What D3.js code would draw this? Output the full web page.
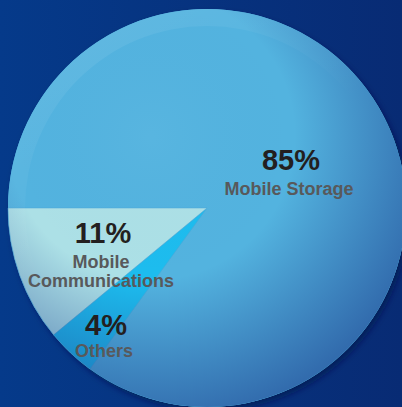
<!DOCTYPE html>
<html><head><meta charset="utf-8">
<script src="https://cdn.jsdelivr.net/npm/d3@7"></script>
<style>html,body{margin:0;padding:0;background:#053783;}svg{display:block;}</style>
</head><body>
<svg id="chart" width="402" height="407"></svg>
<script>
const categories = ["Mobile Storage", "Others", "Mobile Communications"];
const values = [85, 4, 11];
const labelLines = [["Mobile Storage"], ["Others"], ["Mobile", "Communications"]];
const colors = ["#53b3df", "#1dbcee", "#ace0e6"];

const W = 402, H = 407, cx = 207, cy = 208, R = 199;
const svg = d3.select("#chart");
const defs = svg.append("defs");

const bg = defs.append("linearGradient").attr("id","bg").attr("x1","0").attr("x2","1").attr("y1","0").attr("y2","0");
bg.append("stop").attr("offset","0").attr("stop-color","#053a8a");
bg.append("stop").attr("offset","1").attr("stop-color","#082b74");
svg.append("rect").attr("width",W).attr("height",H).attr("fill","url(#bg)");

const shade = defs.append("radialGradient").attr("id","shade").attr("cx","0.36").attr("cy","0.32").attr("r","0.72");
shade.append("stop").attr("offset","0").attr("stop-color","#ffffff").attr("stop-opacity",0.03);
shade.append("stop").attr("offset","0.5").attr("stop-color","#1c3c8c").attr("stop-opacity",0);
shade.append("stop").attr("offset","1").attr("stop-color","#1c3c8c").attr("stop-opacity",0.6);

const hl = defs.append("linearGradient").attr("id","hl").attr("x1","0").attr("x2","0.6").attr("y1","0").attr("y2","1");
hl.append("stop").attr("offset","0").attr("stop-color","#ffffff").attr("stop-opacity",0.1);
hl.append("stop").attr("offset","0.55").attr("stop-color","#ffffff").attr("stop-opacity",0);

const f = defs.append("filter").attr("id","ds").attr("x","-10%").attr("y","-10%").attr("width","130%").attr("height","130%");
f.append("feDropShadow").attr("dx",3).attr("dy",4).attr("stdDeviation",3).attr("flood-color","#04184a").attr("flood-opacity",0.6);

const g = svg.append("g").attr("transform",`translate(${cx},${cy})`);
g.append("circle").attr("r",R).attr("fill","#53b3df").attr("filter","url(#ds)");

const pie = d3.pie().sort(null).value(d=>d).startAngle(-Math.PI/2).endAngle(1.5*Math.PI);
const arcs = pie(values);
const arc = d3.arc().innerRadius(0).outerRadius(R);
g.selectAll("path.slice").data(arcs).join("path").attr("class","slice")
  .attr("d",arc).attr("fill",(d,i)=>colors[i])
  .attr("stroke",(d,i)=> i===0 ? "none" : "#4aa6d6").attr("stroke-width",0.5);

g.append("circle").attr("r",R).attr("fill","url(#shade)");
g.append("path").attr("d", d3.arc().innerRadius(R-17).outerRadius(R).startAngle(0).endAngle(2*Math.PI)())
  .attr("fill","url(#hl)");

// labels
const labelPos = [[291, 170, 195, 0], [106, 335, 357, 0], [103, 243, 268, 19]];
const pctFont = "bold 29px 'Liberation Sans', Arial, sans-serif";
const lblFont = "bold 18px 'Liberation Sans', Arial, sans-serif";
arcs.forEach((d,i)=>{
  const [x, yp, yl, dl] = labelPos[i];
  svg.append("text").attr("x",x).attr("y",yp).attr("text-anchor","middle")
    .style("font",pctFont).attr("fill","#231f20").text(values[i] + "%");
  labelLines[i].forEach((t,j)=>{
    svg.append("text").attr("x",x - 2).attr("y",yl + j*dl).attr("text-anchor","middle")
      .style("font",lblFont).attr("fill","#58595b").text(t);
  });
});
</script>
</body></html>
